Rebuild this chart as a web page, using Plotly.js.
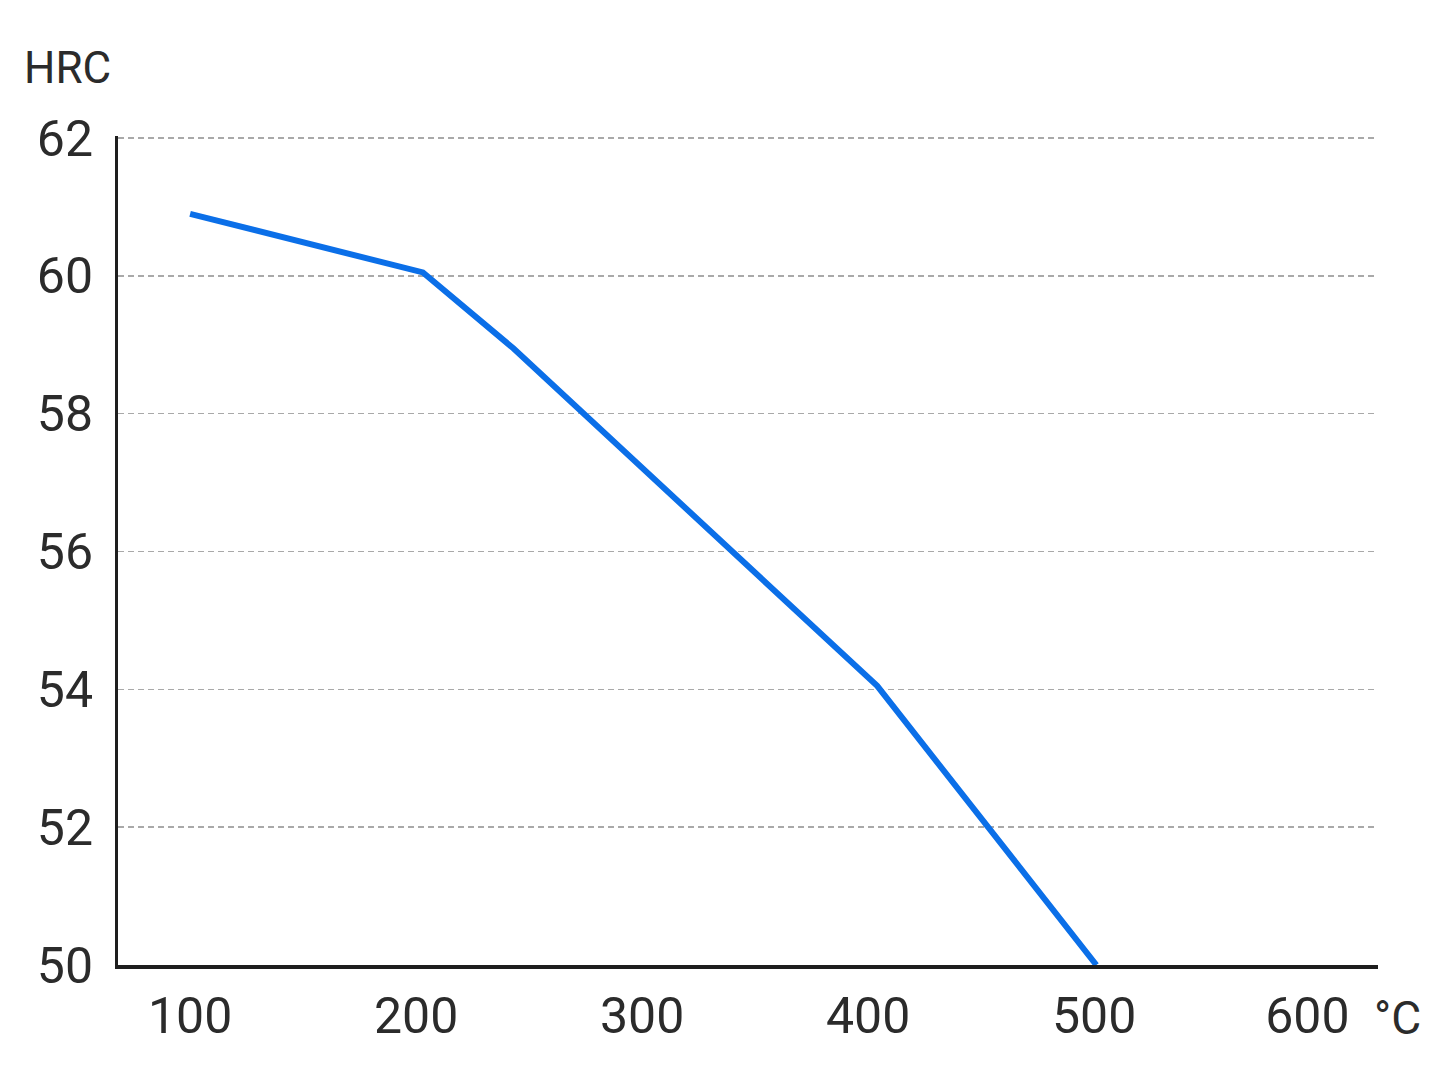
<!DOCTYPE html>
<html>
<head>
<meta charset="utf-8">
<script src="https://cdn.plot.ly/plotly-3.0.1.min.js"></script>
<style>
  html, body { margin: 0; padding: 0; background: #fff; }
  #chart { width: 1448px; height: 1086px; }
</style>
</head>
<body>
<div id="chart"></div>
<script>
// Tempering temperature (°C) vs hardness (HRC)
const temperature = [100, 203, 243, 404, 501];
const hardness = [60.9, 60.05, 58.95, 54.05, 50.0];

const xTickValues = [100, 200, 300, 400, 500, 600];
const xTickLabels = ['100', '200', '300', '400', '500', '600\u2002'];
const yTickValues = [50, 52, 54, 56, 58, 60, 62];
const yTickLabels = ['50', '52', '54', '56', '58', '60', '62'];

const yUnit = 'HRC';
const xUnit = '°C';

const FONT = 'Roboto, "DejaVu Sans Condensed", sans-serif';
const TEXT = '#2b2b2b';

const trace = {
  type: 'scatter',
  mode: 'lines',
  x: temperature,
  y: hardness,
  line: { color: '#0b6fe8', width: 6, shape: 'linear' },
  hoverinfo: 'x+y'
};

const layout = {
  width: 1448,
  height: 1086,
  margin: { l: 118, r: 70, t: 136, b: 121, pad: 0 },
  paper_bgcolor: '#ffffff',
  plot_bgcolor: '#ffffff',
  showlegend: false,
  font: { family: FONT, color: TEXT, size: 50 },
  xaxis: {
    range: [68.1, 625.6],
    tickmode: 'array',
    tickvals: xTickValues,
    ticktext: xTickLabels,
    showgrid: false,
    zeroline: false,
    showline: true,
    linecolor: '#1e1e1e',
    linewidth: 3.5,
    ticks: '',
    ticklabelstandoff: 4,
    tickfont: { family: FONT, size: 50, color: TEXT }
  },
  yaxis: {
    range: [50, 62.03],
    tickmode: 'array',
    tickvals: yTickValues,
    ticktext: yTickLabels,
    showgrid: true,
    gridcolor: '#a9a9a9',
    gridwidth: 1.5,
    griddash: '6px,4px',
    zeroline: false,
    showline: true,
    linecolor: '#1e1e1e',
    linewidth: 3,
    ticks: '',
    ticklabelstandoff: 12,
    tickfont: { family: FONT, size: 50, color: TEXT }
  },
  annotations: [
    {
      text: yUnit,
      xref: 'paper', yref: 'paper',
      x: (67 - 118) / 1260, y: (965 - 68) / 829,
      xanchor: 'center', yanchor: 'middle',
      showarrow: false,
      font: { family: FONT, size: 44, color: TEXT }
    },
    {
      text: xUnit,
      xref: 'paper', yref: 'paper',
      x: (1397 - 118) / 1260, y: (965 - 1018) / 829,
      xanchor: 'center', yanchor: 'middle',
      showarrow: false,
      font: { family: FONT, size: 46, color: TEXT }
    }
  ]
};

Plotly.newPlot('chart', [trace], layout, { displayModeBar: false, staticPlot: true });
</script>
</body>
</html>
